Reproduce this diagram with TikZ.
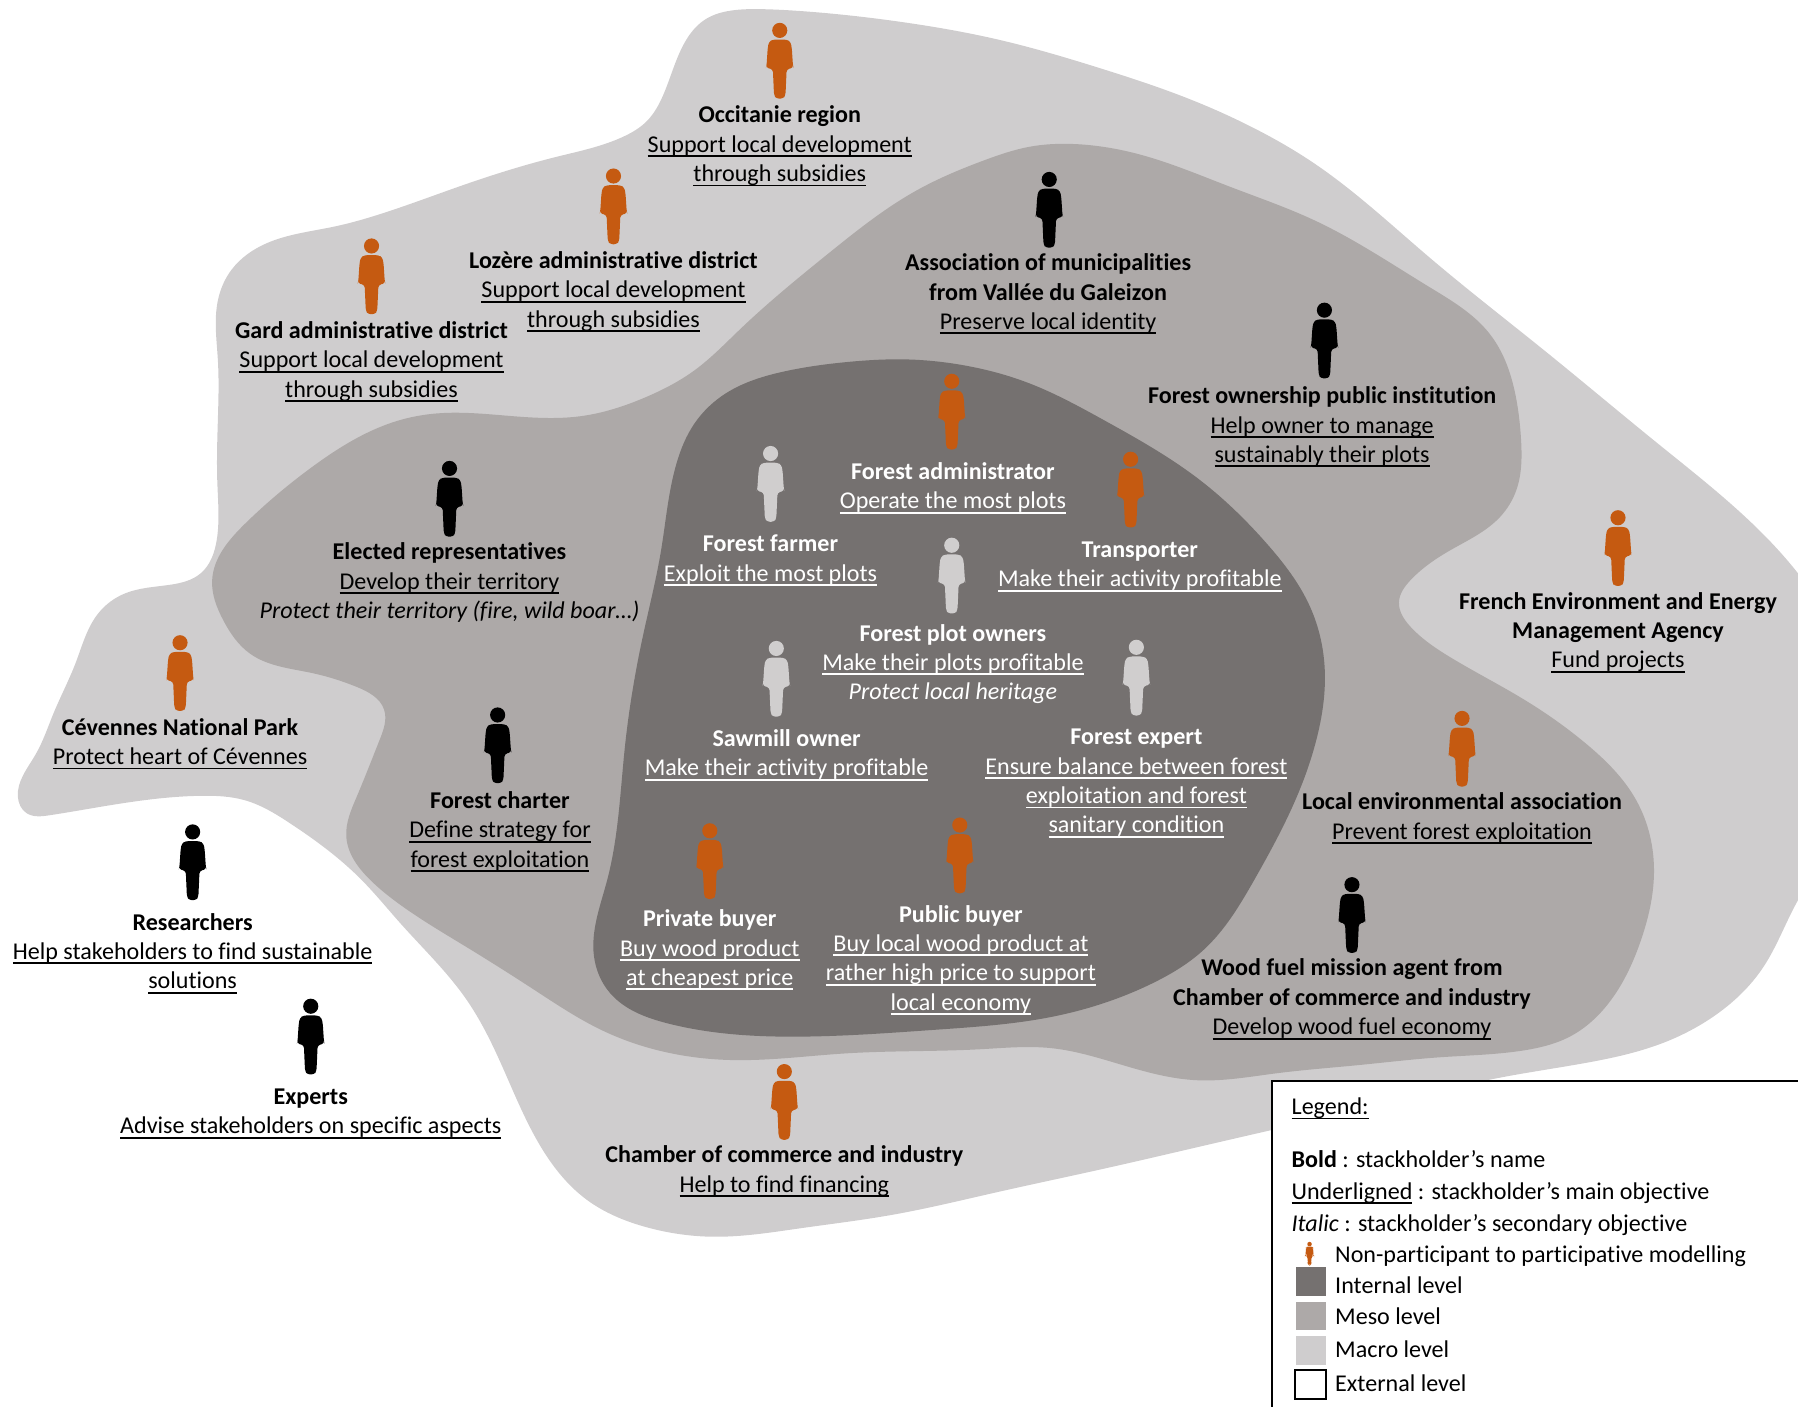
\documentclass[tikz,border=0pt]{standalone}
\usepackage{fontspec}
\usetikzlibrary{hobby}
\setmainfont{Carlito}[Ligatures=NoCommon]
\definecolor{macroc}{HTML}{CFCDCE}
\definecolor{mesoc}{HTML}{ADA9A8}
\definecolor{innerc}{HTML}{757170}
\definecolor{orangec}{HTML}{C55A11}
\definecolor{lightc}{HTML}{D0CECE}
\newcommand\ulx[1]{\leavevmode\setbox0\hbox{#1}\rlap{\rule[-2.1pt]{\wd0}{0.8pt}}\box0 }
\newcommand\person[4][1]{\begin{scope}[shift={(#2,#3)},scale=#1]
\fill[#4] (0,6.5) circle (6.6);
\fill[#4,rounded corners=1.2] (-6,14.5) -- (-9.5,16.5) -- (-10.5,22) -- (-11.5,37) -- (-12,39) -- (-6,40.5) -- (-5,63) -- (-3,66) -- (3,66) -- (5,63) -- (6,40.5) -- (12,39) -- (11.5,37) -- (10.5,22) -- (9.5,16.5) -- (6,14.5) -- cycle;
\end{scope}}
\tikzset{x=0.5pt,y=-0.5pt,
 lab/.style={anchor=north,inner sep=0pt,yshift=0.1pt,align=center,font=\fontsize{10.5}{12.8}\selectfont},
 leg/.style={anchor=base west,inner sep=0pt,font=\fontsize{10.5}{12.8}\selectfont}}
\begin{document}
\begin{tikzpicture}
\useasboundingbox (0,0) rectangle (1568,1227);
\clip (0,0) rectangle (1568,1227);
% macro
\fill[macroc,use Hobby shortcut,closed=true] (665,8) .. (697.7,9.6) .. (785,19) .. (872.5,35) .. (959.7,59.6) .. (1032,84.3) .. (1096,113) .. (1146,142.4) .. (1246,224) .. (1346,305) .. (1446,387) .. (1519,448) .. (1568,500) .. (1620,600) .. (1620,700) .. (1568,785) .. (1538,843) .. (1493.5,887) .. (1449,910) .. (1382.5,927) .. (1307,940) .. (1220,960) .. (1133,980) .. (1046,1000) .. (959,1020) .. (868,1040) .. (777,1059.6) .. (699,1071) .. (621,1078.5) .. (563,1070) .. (512,1046.5) .. (473.4,1003) .. (438,930) .. (407,872) .. (349,805) .. (315,767) .. (253,718) .. (214,698) .. (175,694) .. (117,699) .. (43,711) .. (23,709) .. (15.6,695) .. (31,658) .. (46.7,622) .. (66,578) .. (85.6,535) .. (109,517.5) .. (148,510) .. (175,500) .. (189,471) .. (189.5,420) .. (190,366) .. (190,314) .. (190,262) .. (201.7,235.5) .. (232.8,212) .. (291,197.7) .. (338,184.6) .. (408,160) .. (486,136.6) .. (544,119) .. (563.7,106) .. (579,81.4) .. (595,41) .. (614.3,17.4) .. (641.6,8.7);
% meso
\fill[mesoc,use Hobby shortcut,closed=true] (936.6,125.6) .. (995,135) .. (1073,163) .. (1146,192) .. (1246,250) .. (1299,291) .. (1322.5,349) .. (1326.5,384) .. (1322.5,427) .. (1308,451) .. (1264.5,480) .. (1230,506) .. (1220,525) .. (1230,546.5) .. (1264.5,573) .. (1329,610) .. (1382.5,648) .. (1427,698) .. (1442.4,761.6) .. (1431,820) .. (1405,872) .. (1369,904) .. (1329,916) .. (1256,922) .. (1183,929) .. (1113,936) .. (1043,942) .. (983,930) .. (916.4,914) .. (855,915) .. (738,918.6) .. (637,924.4) .. (524,898) .. (465.6,863) .. (407,826) .. (349,789) .. (323,767.5) .. (302,729.6) .. (311,695) .. (331,645.4) .. (335,619) .. (311,599) .. (272.5,587) .. (218,570) .. (194.6,540.7) .. (185,506) .. (214,456.4) .. (272.5,407) .. (350,366) .. (381.5,360.5) .. (448,363) .. (506,363) .. (564,346) .. (606,322.7) .. (644.7,287.8) .. (722.5,221) .. (800,165.7) .. (858.8,139.6) .. (897.7,128);
% inner
\fill[innerc,use Hobby shortcut,closed=true] (788.7,313.4) .. (839,318.3) .. (897.7,334.3) .. (962,366) .. (1046.4,418.6) .. (1104.6,473.9) .. (1142.4,529) .. (1155.4,587) .. (1148,645) .. (1138,677) .. (1094,767) .. (1049.6,828.4) .. (1005,857.5) .. (916,887) .. (816,898) .. (699,904) .. (582.4,892.5) .. (532,866) .. (518,834) .. (529.5,767.5) .. (545,651) .. (560.6,555) .. (576.5,480) .. (590,404) .. (605.7,369.2) .. (633,343) .. (683.6,324) .. (742,315.4);
% people
\person{680}{20}{orangec}
\person{535}{147}{orangec}
\person{324}{208}{orangec}
\person{915}{150}{black}
\person{1155}{264}{black}
\person{830}{326}{orangec}
\person{672}{389}{lightc}
\person{986}{394}{orangec}
\person{830}{469}{lightc}
\person{677}{559}{lightc}
\person{991}{558}{lightc}
\person{619}{718}{orangec}
\person{837}{713}{orangec}
\person{392}{402}{black}
\person{434}{617}{black}
\person{157}{554}{orangec}
\person{168}{719}{black}
\person{271}{871}{black}
\person{684}{928}{orangec}
\person{1411}{445}{orangec}
\person{1275}{620}{orangec}
\person{1179}{765}{black}
% labels
\node[lab] (occ) at (680,89) {\strut\textbf{Occitanie region}\\\ulx{Support local development}\\\ulx{through subsidies}};
\node[lab] (loz) at (535,216) {\strut\textbf{Lozère administrative district}\\\ulx{Support local development}\\\ulx{through subsidies}};
\node[lab] (gard) at (324,277) {\strut\textbf{Gard administrative district}\\\ulx{Support local development}\\\ulx{through subsidies}};
\node[lab] (assoc) at (914,218) {\strut\textbf{Association of municipalities}\\\textbf{from Vallée du Galeizon}\\\ulx{Preserve local identity}};
\node[lab] (fopi) at (1153,334) {\strut\textbf{Forest ownership public institution}\\\ulx{Help owner to manage}\\\ulx{sustainably their plots}};
\node[lab,white] (fadm) at (831,400) {\strut\textbf{Forest administrator}\\\ulx{Operate the most plots}};
\node[lab,white] (ffarm) at (672,463) {\strut\textbf{Forest farmer}\\\ulx{Exploit the most plots}};
\node[lab,white] (trans) at (994,468) {\strut\textbf{Transporter}\\\ulx{Make their activity profitable}};
\node[lab,white] (fpo) at (831,541) {\strut\textbf{Forest plot owners}\\\ulx{Make their plots profitable}\\\textit{Protect local heritage}};
\node[lab,white] (saw) at (686,633) {\strut\textbf{Sawmill owner}\\\ulx{Make their activity profitable}};
\node[lab,white] (fexp) at (991,631.5) {\strut\textbf{Forest expert}\\\ulx{Ensure balance between forest}\\\ulx{exploitation and forest}\\\ulx{sanitary condition}};
\node[lab,white] (priv) at (619,790) {\strut\textbf{Private buyer}\\\ulx{Buy wood product}\\\ulx{at cheapest price}};
\node[lab,white] (pub) at (838,786) {\strut\textbf{Public buyer}\\\ulx{Buy local wood product at}\\\ulx{rather high price to support}\\\ulx{local economy}};
\node[lab] (elec) at (392,470) {\strut\textbf{Elected representatives}\\\ulx{Develop their territory}\\\textit{Protect their territory (fire, wild boar…)}};
\node[lab] (char) at (436,687) {\strut\textbf{Forest charter}\\\ulx{Define strategy for}\\\ulx{forest exploitation}};
\node[lab] (cev) at (157,623) {\strut\textbf{Cévennes National Park}\\\ulx{Protect heart of Cévennes}};
\node[lab] (res) at (168,793) {\strut\textbf{Researchers}\\\ulx{Help stakeholders to find sustainable}\\\ulx{solutions}};
\node[lab] (exp) at (271,945) {\strut\textbf{Experts}\\\ulx{Advise stakeholders on specific aspects}};
\node[lab] (cham) at (684,996) {\strut\textbf{Chamber of commerce and industry}\\\ulx{Help to find financing}};
\node[lab] (fren) at (1411,513) {\strut\textbf{French Environment and Energy}\\\textbf{Management Agency}\\\ulx{Fund projects}};
\node[lab] (lenv) at (1275,688) {\strut\textbf{Local environmental association}\\\ulx{Prevent forest exploitation}};
\node[lab] (wood) at (1179,833) {\strut\textbf{Wood fuel mission agent from}\\\textbf{Chamber of commerce and industry}\\\ulx{Develop wood fuel economy}};
% legend
\draw[black,line width=0.9pt,fill=white] (1109,942.5) rectangle (1575,1240);
\node[leg] (l0) at (1126,972) {\ulx{Legend:}};
\node[leg] (l1) at (1126,1018) {\textbf{Bold} : stackholder’s name};
\node[leg] (l2) at (1126,1046) {\ulx{Underligned} : stackholder’s main objective};
\node[leg] (l3) at (1126,1074) {\textit{Italic} : stackholder’s secondary objective};
\person[0.3]{1142}{1083}{orangec}
\node[leg] (l4) at (1164,1101) {Non-participant to participative modelling};
\fill[innerc] (1130,1105) rectangle (1156,1130);
\node[leg] (l5) at (1164,1128) {Internal level};
\fill[mesoc] (1130,1135) rectangle (1156,1160);
\node[leg] (l6) at (1164,1155) {Meso level};
\fill[macroc] (1130,1165) rectangle (1156,1190);
\node[leg] (l7) at (1164,1184) {Macro level};
\draw[black,line width=1pt,fill=white] (1129.5,1195) rectangle (1156.5,1220);
\node[leg] (l8) at (1164,1213.5) {External level};
\end{tikzpicture}
\end{document}
